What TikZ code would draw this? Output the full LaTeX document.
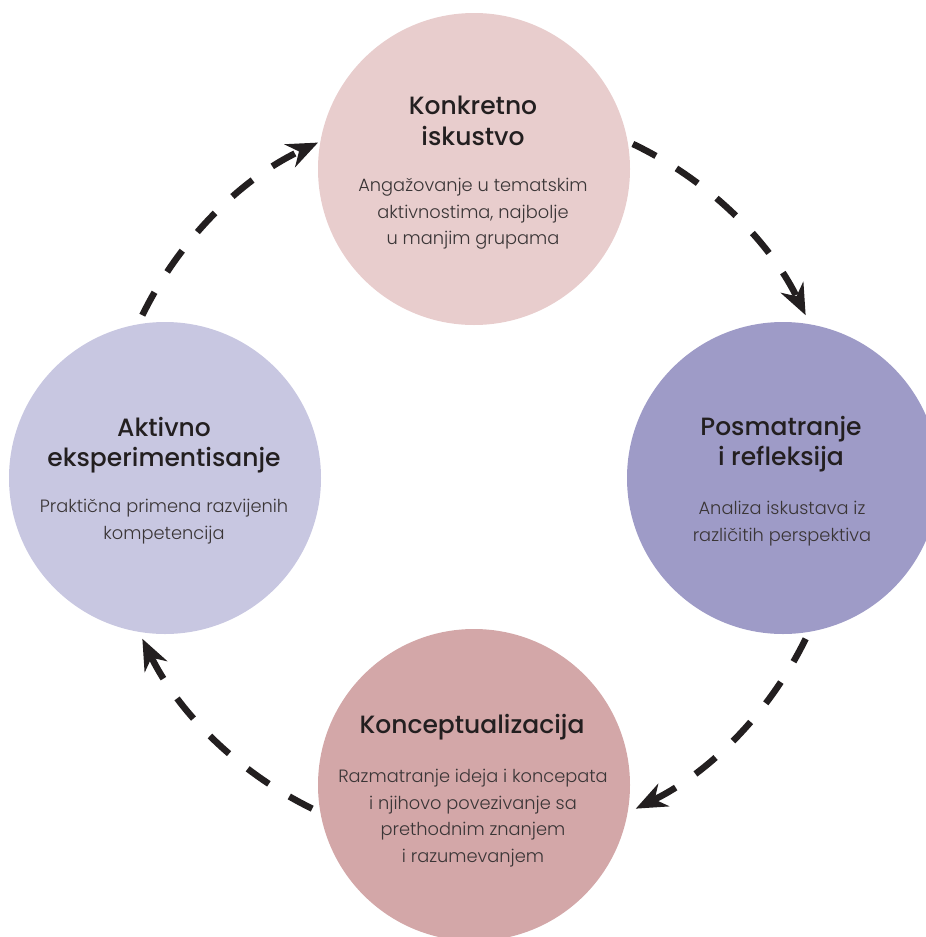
\documentclass[tikz,border=0pt]{standalone}
\usepackage{fontspec}
\setmainfont{Poppins}
\newfontfamily\titlefont{Poppins Medium}
\newfontfamily\bodyfont{Poppins Light}
\usetikzlibrary{arrows.meta}
\definecolor{cTop}{HTML}{E8CDCD}
\definecolor{cRight}{HTML}{9E9BC7}
\definecolor{cBottom}{HTML}{D3A7A8}
\definecolor{cLeft}{HTML}{C8C7E1}
\definecolor{ink}{HTML}{231F20}
\definecolor{ink2}{HTML}{3A3536}
\begin{document}
\begin{tikzpicture}[x=1pt,y=-1pt,
  bubble/.style={circle,minimum size=312pt,inner sep=0pt,draw=none},
  ttl/.style={font=\titlefont\fontsize{25}{30.5}\selectfont,text=ink,align=center,inner sep=0pt,anchor=north},
  bdy/.style={font=\bodyfont\fontsize{17.8}{26.5}\selectfont,text=ink2,align=center,inner sep=0pt,anchor=north},
  flow/.style={draw=ink,line width=6.5pt,dash pattern=on 26pt off 24pt,-{Stealth[length=31pt,width=25pt,inset=10pt]}}]
\useasboundingbox (0,0) rectangle (926,937);
\coordinate (c) at (474,477);
\node[bubble,fill=cTop] (top) at (474,169) {};
\node[bubble,fill=cRight] (right) at (783,478) {};
\node[bubble,fill=cBottom] (bottom) at (474,785) {};
\node[bubble,fill=cLeft] (left) at (165,478) {};
\node[ttl] (topT) at (473,96) {Konkretno\\iskustvo};
\node[bdy] (topB) at (473,178) {Angažovanje u tematskim\\aktivnostima, najbolje\\u manjim grupama};
\node[ttl] (rightT) at (781,416) {Posmatranje\\i refleksija};
\node[bdy] (rightB) at (782,501) {Analiza iskustava iz\\različitih perspektiva};
\node[ttl] (bottomT) at (472,714) {Konceptualizacija};
\node[bdy] (bottomB) at (473,769) {Razmatranje ideja i koncepata\\i njihovo povezivanje sa\\prethodnim znanjem\\i razumevanjem};
\node[ttl] (leftT) at (164,417) {Aktivno\\eksperimentisanje};
\node[bdy] (leftB) at (164,499) {Praktična primena razvijenih\\kompetencija};
\draw[flow] ([shift={(-64.5:369)}]c) arc[start angle=-64.5, end angle=-26, radius=369];
\draw[flow] ([shift={(26:369)}]c) arc[start angle=26, end angle=64, radius=369];
\draw[flow] ([shift={(116:369)}]c) arc[start angle=116, end angle=154, radius=369];
\draw[flow] ([shift={(-154:369)}]c) arc[start angle=-154, end angle=-115, radius=369];
\end{tikzpicture}
\end{document}
